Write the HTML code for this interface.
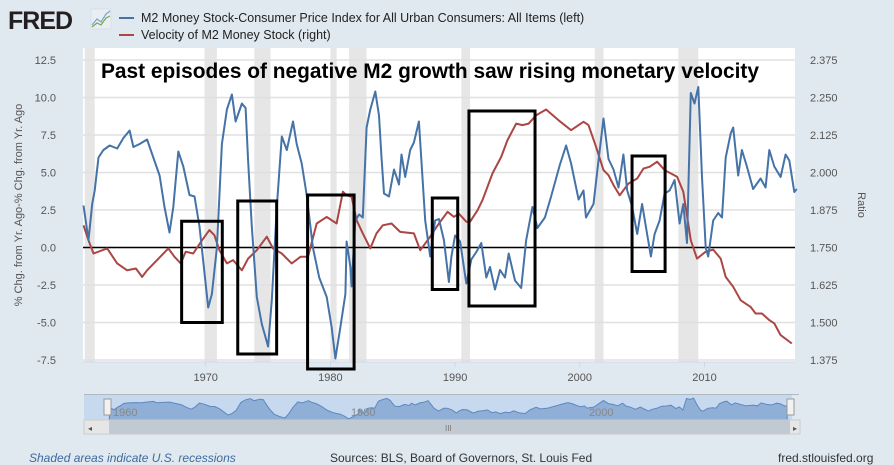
<!DOCTYPE html>
<html><head><meta charset="utf-8">
<style>
html,body{margin:0;padding:0;background:#e1e9f0;}
body{width:894px;height:465px;overflow:hidden;font-family:"Liberation Sans",sans-serif;}
svg{display:block}
</style></head>
<body>
<svg id="chart" width="894" height="465" xmlns="http://www.w3.org/2000/svg">
  <rect x="0" y="0" width="894" height="465" fill="#e1e9f0"/>
  <g>
    <text x="8" y="29" font-size="25" font-weight="bold" fill="#231f20" font-family="Liberation Sans, sans-serif" letter-spacing="-1">FRED</text>
    <rect x="91" y="9" width="20" height="20" fill="#e9eef2" stroke="#c9d3dc" stroke-width="0.5"/>
    <polyline points="92,25 97,19 101,22 106,14 110,11" fill="none" stroke="#7aa6c9" stroke-width="1.2"/>
    <polyline points="92,27 97,23 101,25 106,18 110,16" fill="none" stroke="#79a84a" stroke-width="1.2"/>
  </g>
  <g>
    <line x1="119" y1="18" x2="134" y2="18" stroke="#4572a7" stroke-width="2"/>
    <text x="141" y="22" font-size="12.5" fill="#222">M2 Money Stock-Consumer Price Index for All Urban Consumers: All Items (left)</text>
    <line x1="119" y1="35" x2="134" y2="35" stroke="#aa4643" stroke-width="2"/>
    <text x="141" y="39" font-size="12.5" fill="#222">Velocity of M2 Money Stock (right)</text>
  </g>
  <rect x="83" y="48" width="712" height="314" fill="#ffffff"/>
  <g id="recessions"></g>
  <g id="grid"></g>
  <g id="leftAxis"></g>
  <g id="rightAxis"></g>
  <g id="xAxis"></g>
  <text transform="translate(22,205) rotate(-90)" text-anchor="middle" font-size="11" fill="#555">% Chg. from Yr. Ago-% Chg. from Yr. Ago</text>
  <text transform="translate(858,205) rotate(90)" text-anchor="middle" font-size="11" fill="#555">Ratio</text>
  <line x1="83" y1="247.5" x2="795" y2="247.5" stroke="#000" stroke-width="1.6"/>
  <g id="series"></g>
  <g id="boxes"></g>
  <text x="101" y="78" font-size="21" font-weight="bold" fill="#000" textLength="658" lengthAdjust="spacingAndGlyphs">Past episodes of negative M2 growth saw rising monetary velocity</text>
  <g>
    <rect x="84" y="394" width="708" height="26" fill="#c7d9ee"/>
    <line x1="84" y1="394.5" x2="799" y2="394.5" stroke="#b0b8c0"/>
    <g id="nav"></g>
    <text x="113" y="416" font-size="11" fill="#888">1960</text>
    <text x="351" y="416" font-size="11" fill="#888">1980</text>
    <text x="589" y="416" font-size="11" fill="#888">2000</text>
    <rect x="104" y="399" width="7" height="16" fill="#f2f2f2" stroke="#999"/>
    <rect x="787" y="399" width="7" height="16" fill="#f2f2f2" stroke="#999"/>
    <rect x="84" y="420" width="716" height="14" fill="#e6e6e6" stroke="#ccc"/>
    <rect x="109" y="420" width="681" height="14" fill="#c1c9d2"/>
    <text x="445" y="431" font-size="8" fill="#777">III</text>
    <text x="88" y="431" font-size="8" fill="#555">◂</text>
    <text x="793" y="431" font-size="8" fill="#555">▸</text>
  </g>
  <text x="29" y="462" font-size="12" font-style="italic" fill="#3d6a9e">Shaded areas indicate U.S. recessions</text>
  <text x="330" y="462" font-size="12" fill="#333">Sources: BLS, Board of Governors, St. Louis Fed</text>
  <text x="778" y="462" font-size="12" fill="#333">fred.stlouisfed.org</text>
</svg>
<script>
const leftTicks=[12.5,10,7.5,5,2.5,0,-2.5,-5,-7.5];
const leftTickLabels=["12.5","10.0","7.5","5.0","2.5","0.0","-2.5","-5.0","-7.5"];
const rightTickLabels=["2.375","2.250","2.125","2.000","1.875","1.750","1.625","1.500","1.375"];
const rightTicks=[2.375,2.25,2.125,2.0,1.875,1.75,1.625,1.5,1.375];
const xTicks=[1970,1980,1990,2000,2010];
const recStarts=[1960.3,1969.9,1973.9,1980.0,1981.5,1990.5,2001.2,2007.9];
const recEnds=[1961.1,1970.9,1975.2,1980.5,1982.9,1991.2,2001.9,2009.5];
const blueYears=[1960.2,1960.6,1960.9,1961.1,1961.4,1961.8,1962.3,1962.9,1963.4,1963.9,1964.2,1964.7,1965.3,1965.8,1966.3,1966.7,1967.1,1967.4,1967.8,1968.2,1968.7,1969.1,1969.5,1969.9,1970.2,1970.5,1970.9,1971.3,1971.7,1972.1,1972.4,1972.9,1973.2,1973.4,1973.7,1974.1,1974.5,1974.8,1975.0,1975.3,1975.7,1976.1,1976.5,1977.0,1977.3,1977.7,1978.1,1978.6,1979.1,1979.7,1980.1,1980.4,1980.8,1981.2,1981.3,1981.6,1981.7,1982.0,1982.3,1982.6,1982.9,1983.2,1983.6,1983.9,1984.1,1984.3,1984.7,1985.1,1985.5,1985.7,1986.0,1986.4,1986.7,1987.1,1987.3,1987.6,1988.0,1988.4,1988.7,1989.1,1989.5,1989.7,1990.0,1990.4,1990.9,1991.3,1991.7,1992.1,1992.5,1992.8,1993.2,1993.6,1994.0,1994.3,1994.8,1995.3,1995.7,1996.2,1996.6,1997.2,1997.7,1998.4,1998.9,1999.3,1999.9,2000.3,2000.5,2001.1,2001.5,2001.9,2002.3,2002.7,2003.1,2003.5,2003.8,2004.2,2004.6,2005.0,2005.4,2005.7,2006.0,2006.4,2006.8,2007.2,2007.6,2008.0,2008.3,2008.6,2008.9,2009.2,2009.5,2009.8,2010.1,2010.3,2010.7,2011.1,2011.4,2011.7,2012.1,2012.3,2012.7,2013.0,2013.4,2013.9,2014.5,2014.9,2015.2,2015.6,2016.1,2016.5,2016.8,2017.2,2017.4];
const blueValues=[2.8,0.5,2.9,3.8,6.0,6.5,6.8,6.6,7.3,7.8,6.7,6.9,7.2,6.0,4.8,2.7,1.0,2.7,6.4,5.4,3.5,3.4,1.4,-1.7,-4.0,-3.1,0,6.9,9.2,10.2,8.4,9.6,9.3,5.8,1.4,-3.3,-5.1,-6.0,-6.6,-3.5,2.7,7.4,6.5,8.4,6.9,5.6,3.5,0,-2.0,-3.3,-5.3,-7.4,-5.3,-3.1,0.4,-1.3,-2.6,1.8,2.2,2.0,8.0,9.2,10.4,8.8,6.0,3.6,3.4,5.2,4.2,6.2,4.7,6.5,7.0,8.4,5.8,1.8,-0.6,1.8,1.9,0.5,-2.3,-0.6,0.8,0.4,-2.4,-0.8,-0.3,0.3,-2.0,-1.3,-2.8,-1.5,-2.0,-0.4,-2.2,-2.7,0.5,2.7,1.3,2.0,3.4,5.5,6.8,5.6,3.2,3.8,2.0,2.9,5.8,8.6,5.9,5.2,4.0,6.2,3.8,2.7,0.9,2.9,0.9,-0.6,0.9,1.8,3.6,3.8,4.5,1.6,2.9,0.3,10.3,9.6,10.7,4.7,0,-0.6,1.8,2.3,2.0,6.0,7.6,8.0,4.8,6.5,5.4,3.9,4.6,4.0,6.5,5.4,4.7,6.2,5.8,3.7,3.9];
const redYears=[1960.2,1960.6,1961.0,1962.1,1962.9,1963.7,1964.4,1964.9,1965.3,1966.1,1967.0,1967.5,1968.0,1968.4,1969.0,1969.7,1970.3,1970.7,1971.1,1971.7,1972.2,1972.9,1973.4,1974.1,1974.9,1975.4,1976.1,1976.9,1977.6,1978.2,1978.9,1979.7,1980.5,1981.0,1981.3,1981.7,1982.1,1982.6,1983.2,1983.7,1984.2,1984.9,1985.6,1986.7,1987.2,1987.9,1988.7,1989.4,1989.9,1990.3,1990.9,1991.2,1991.8,1992.2,1993.0,1993.7,1994.2,1994.9,1995.4,1995.9,1996.5,1997.3,1998.3,1999.3,1999.9,2000.3,2000.7,2001.3,2001.9,2002.3,2002.7,2003.2,2003.9,2004.6,2005.1,2005.6,2006.2,2006.8,2007.8,2008.3,2008.9,2009.4,2010.1,2010.7,2011.3,2011.7,2012.3,2012.9,2013.7,2014.1,2014.6,2015.2,2015.6,2016.1,2017.0];
const redValues=[1.824,1.774,1.730,1.747,1.697,1.674,1.680,1.652,1.674,1.708,1.747,1.719,1.697,1.736,1.730,1.774,1.808,1.791,1.741,1.697,1.708,1.674,1.713,1.741,1.786,1.747,1.730,1.697,1.719,1.719,1.830,1.852,1.830,1.936,1.924,1.919,1.841,1.797,1.747,1.797,1.824,1.830,1.802,1.797,1.741,1.780,1.830,1.869,1.852,1.863,1.836,1.836,1.874,1.908,1.997,2.052,2.108,2.163,2.158,2.163,2.191,2.210,2.174,2.141,2.158,2.169,2.158,2.086,2.008,1.991,1.958,1.924,1.963,1.980,2.013,2.019,2.036,2.008,1.986,1.936,1.774,1.713,1.736,1.743,1.713,1.652,1.619,1.574,1.552,1.530,1.530,1.508,1.497,1.458,1.430];
const boxYearStart=[1968.07,1972.57,1978.17,1988.17,1991.11,2004.19];
const boxYearEnd=[1971.33,1975.69,1981.9,1990.21,1996.41,2006.84];
const boxTop=[1.75,3.1,3.5,3.3,9.1,6.1];
const boxBottom=[-5.0,-7.1,-8.1,-2.8,-3.9,-1.6];

const NS="http://www.w3.org/2000/svg";
function X(y){return 81+(y-1960)*12.47;}
function YL(v){return 247.5-v*15;}
function YR(r){return 247.5-(r-1.75)*300;}
function mk(tag,attrs,parent){const e=document.createElementNS(NS,tag);for(const k in attrs)e.setAttribute(k,attrs[k]);parent.appendChild(e);return e;}
const rec=document.getElementById('recessions');
for(let i=0;i<recStarts.length;i++){
  const r=mk('rect',{x:X(recStarts[i]),y:48,width:X(recEnds[i])-X(recStarts[i]),height:314,fill:'#e6e6e6'},rec);
  
  
}
const grid=document.getElementById('grid'),la=document.getElementById('leftAxis'),ra=document.getElementById('rightAxis'),xa=document.getElementById('xAxis');
for(let i=0;i<leftTicks.length;i++){
  const y=YL(leftTicks[i]);
  const g=mk('line',{x1:83,x2:795,y1:y,y2:y,stroke:'#e0e0e0','stroke-width':1.5},grid);
  
  
  const t=mk('text',{x:56,y:y+4,'text-anchor':'end','font-size':11,fill:'#555'},la);
  t.textContent=leftTickLabels[i];
  
  
}
for(let i=0;i<rightTicks.length;i++){
  const t=mk('text',{x:810,y:YR(rightTicks[i])+4,'font-size':11,fill:'#555'},ra);
  t.textContent=rightTickLabels[i];
  
  
}
mk('line',{x1:83,x2:795,y1:362,y2:362,stroke:'#ccd6eb'},xa);
for(const yr of xTicks){
  mk('line',{x1:X(yr),x2:X(yr),y1:362,y2:367,stroke:'#ccd6eb'},xa);
  const t=mk('text',{x:X(yr),y:381,'text-anchor':'middle','font-size':11,fill:'#555'},xa);
  t.textContent=yr;
  
  
}
const ser=document.getElementById('series');
const rp=mk('polyline',{points:redYears.map((y,i)=>X(y).toFixed(1)+','+YR(redValues[i]).toFixed(1)).join(' '),fill:'none',stroke:'#aa4643','stroke-width':2,'stroke-linejoin':'round'},ser);


const bp=mk('polyline',{points:blueYears.map((y,i)=>X(y).toFixed(1)+','+YL(blueValues[i]).toFixed(1)).join(' '),fill:'none',stroke:'#4572a7','stroke-width':2,'stroke-linejoin':'round'},ser);


const bx=document.getElementById('boxes');
for(let i=0;i<boxYearStart.length;i++){
  const r=mk('rect',{x:X(boxYearStart[i]),y:YL(boxTop[i]),width:X(boxYearEnd[i])-X(boxYearStart[i]),height:YL(boxBottom[i])-YL(boxTop[i]),fill:'none',stroke:'#000','stroke-width':3},bx);
  
  
}
const nav=document.getElementById('nav');
function NX(y){return 107+(y-1960)*11.85;}
function NY(v){return 419-(v+7.5)*1.15;}
let pts=NX(blueYears[0])+',420 '+blueYears.map((y,i)=>NX(y).toFixed(1)+','+NY(blueValues[i]).toFixed(1)).join(' ')+' '+NX(blueYears[blueYears.length-1])+',420';
const na=mk('polygon',{points:pts,fill:'#8fafd6',stroke:'#5f87c0','stroke-width':1},nav);


</script>
</body></html>
